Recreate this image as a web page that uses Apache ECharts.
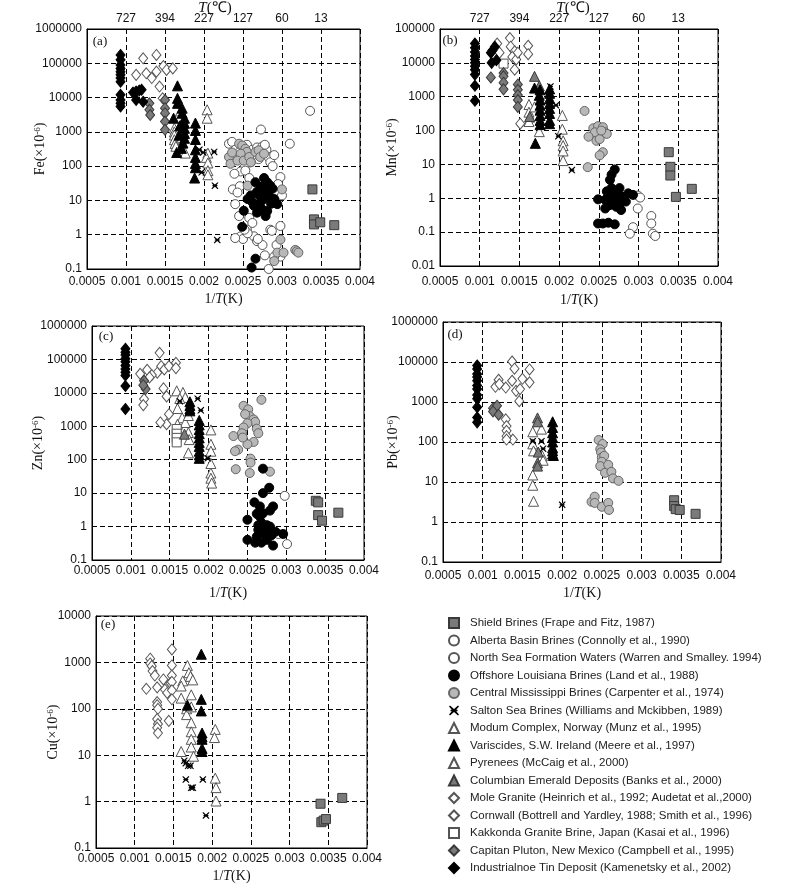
<!DOCTYPE html>
<html><head><meta charset="utf-8">
<script src="https://cdn.jsdelivr.net/npm/echarts@6/dist/echarts.min.js"></script>
<style>html,body{margin:0;padding:0;background:#fff}#c{width:800px;height:884px}</style>
</head><body><div id="c"></div>
<script>
// ---------- tick labels ----------
const X_TICKS = ['0.0005','0.001','0.0015','0.002','0.0025','0.003','0.0035','0.004'];
const T_TICKS = ['727','394','227','127','60','13'];
const FE_TICKS = ['0.1','1','10','100','1000','10000','100000','1000000'];
const MN_TICKS = ['0.01','0.1','1','10','100','1000','10000','100000'];
const ZN_TICKS = ['0.1','1','10','100','1000','10000','100000','1000000'];
const PB_TICKS = ['0.1','1','10','100','1000','100000','1000000'];
const CU_TICKS = ['0.1','1','10','100','1000','10000'];

// ---------- legend names ----------
const NAME = {
  shield:'Shield Brines (Frape and Fitz, 1987)',
  alberta:'Alberta Basin Brines (Connolly et al., 1990)',
  northsea:'North Sea Formation Waters (Warren and Smalley. 1994)',
  louisiana:'Offshore Louisiana Brines (Land et al., 1988)',
  mississippi:'Central Mississippi Brines (Carpenter et al., 1974)',
  salton:'Salton Sea Brines (Williams and Mckibben, 1989)',
  modum:'Modum Complex, Norway (Munz et al., 1995)',
  variscides:'Variscides, S.W. Ireland (Meere et al., 1997)',
  pyrenees:'Pyrenees (McCaig et al., 2000)',
  columbian:'Columbian Emerald Deposits (Banks et al., 2000)',
  mole:'Mole Granite (Heinrich et al., 1992; Audetat et al.,2000)',
  cornwall:'Cornwall (Bottrell and Yardley, 1988; Smith et al., 1996)',
  kakkonda:'Kakkonda Granite Brine, Japan (Kasai et al., 1996)',
  capitan:'Capitan Pluton, New Mexico (Campbell et al., 1995)',
  industrialnoe:'Industrialnoe Tin Deposit (Kamenetsky et al., 2002)'
};
const LEGEND_ORDER = ['shield','alberta','northsea','louisiana','mississippi','salton','modum','variscides','pyrenees','columbian','mole','cornwall','kakkonda','capitan','industrialnoe'];

// ---------- (a) Fe ----------
const FE_SHIELD = [[0.00339,21],[0.00341,2.8],[0.00341,2.0],[0.00349,2.3],[0.00367,1.9]];
const FE_ALBERTA = [[0.00336,4100],[0.0031,450],[0.00273,1170],[0.00232,450],[0.00236,510],[0.0024,300],[0.00245,250],[0.0025,380],[0.00255,420],[0.00262,300],[0.00268,350],[0.00275,380],[0.0028,300],[0.00283,180],[0.00285,130],[0.0029,210],[0.00288,100],[0.0027,160],[0.0026,130],[0.00252,90],[0.00247,70],[0.00278,420],[0.00265,220]];
const FE_NORTHSEA = [[0.00239,60],[0.00237,21],[0.0024,7.8],[0.00253,74],[0.00258,45],[0.00298,48],[0.003,14],[0.00295,30],[0.00246,26],[0.00243,17],[0.00245,3.5],[0.00258,3.1],[0.00262,2.2],[0.00255,1.4],[0.00247,0.9],[0.00264,0.9],[0.00268,0.65],[0.00285,1.4],[0.00298,1.8],[0.00275,0.5],[0.00298,0.23],[0.0029,0.23],[0.00283,0.1],[0.0025,0.75],[0.00256,1.1],[0.00278,0.25],[0.0024,0.8],[0.00287,1.3],[0.00293,0.5],[0.00252,1.4],[0.00269,0.75]];
const FE_LOUISIANA = [[0.00277,45],[0.00266,34],[0.00281,34],[0.00273,25],[0.00283,21],[0.00277,17],[0.0026,14],[0.00271,14],[0.00283,14],[0.0029,11],[0.00294,7.8],[0.00256,11],[0.00264,7],[0.00275,5.4],[0.00281,4.9],[0.00268,4.4],[0.00279,3.5],[0.00251,5],[0.00249,1.7],[0.00266,0.2],[0.00261,0.11],[0.00285,27],[0.00277,11],[0.00268,18],[0.00262,9],[0.00286,8],[0.00272,8.5],[0.00288,22]];
const FE_MISSISSIPPI = [[0.00232,185],[0.00234,117],[0.00236,250],[0.00245,450],[0.00249,400],[0.00253,320],[0.00255,260],[0.00247,230],[0.00243,145],[0.00251,145],[0.00258,185],[0.0026,130],[0.00266,260],[0.0027,290],[0.00272,185],[0.00277,230],[0.00256,27],[0.003,21],[0.00298,0.72],[0.00294,0.3],[0.00302,0.3],[0.0029,0.17],[0.00317,0.36],[0.00319,0.33],[0.00321,0.3]];
const FE_SALTON = [[0.00194,300],[0.00199,250],[0.00197,66],[0.00213,260],[0.00214,27],[0.00217,0.7]];
const FE_MODUM = [[0.00162,1280],[0.00162,1000],[0.00162,810],[0.00162,590],[0.00163,460],[0.00164,380],[0.00176,240],[0.0017,4100]];
const FE_PYRENEES = [[0.00204,4400],[0.00204,2500],[0.00205,240],[0.00203,180],[0.00205,124],[0.00205,74],[0.00205,56]];
const FE_VARISCIDES = [[0.00166,22000],[0.00166,9500],[0.00166,6800],[0.00172,4900],[0.00172,3500],[0.00175,2500],[0.00175,1780],[0.00175,1270],[0.00175,900],[0.00175,650],[0.00173,470],[0.00171,330],[0.00161,2500],[0.00165,250],[0.00189,1800],[0.00189,1100],[0.00189,600],[0.00189,300],[0.00189,180],[0.00189,120],[0.00189,90],[0.00188,45],[0.00169,1500],[0.00168,800]];
const FE_MOLE = [[0.00139,175000],[0.00139,57000],[0.00148,83000],[0.00152,64000],[0.0016,71000],[0.00143,21000],[0.00147,9500]];
const FE_CORNWALL = [[0.00122,140000],[0.00113,46000],[0.00126,51000],[0.00133,37000]];
const FE_CAPITAN = [[0.0013,6800],[0.0013,4400],[0.00131,3100],[0.0015,8500],[0.0015,4900],[0.0015,3500],[0.0015,2000],[0.0015,1150]];
const FE_INDUSTRIALNOE = [[0.00093,175000],[0.00093,126000],[0.00093,89000],[0.00093,71000],[0.00093,57000],[0.00093,46000],[0.00093,37000],[0.00093,29000],[0.00093,12000],[0.00093,8500],[0.00093,6800],[0.00093,5500],[0.00113,15000],[0.0012,17000],[0.00113,8500],[0.00122,7600],[0.00109,14000],[0.00117,16000]];

// ---------- (b) Mn ----------
const MN_SHIELD = [[0.00338,23],[0.0034,8.5],[0.0034,4.7],[0.00347,1.1],[0.00367,1.9]];
const MN_ALBERTA = [[0.00299,1.2],[0.00302,1.05],[0.00299,0.5]];
const MN_NORTHSEA = [[0.00293,0.14],[0.00289,0.09],[0.00316,0.3],[0.00316,0.18],[0.00318,0.09],[0.00321,0.077]];
const MN_LOUISIANA = [[0.0027,7.1],[0.00266,5],[0.00264,3.5],[0.00266,2],[0.0026,1.6],[0.00249,0.93],[0.00258,0.9],[0.00272,1.4],[0.00276,2],[0.00281,1.1],[0.00287,1.4],[0.00293,1.26],[0.00264,0.63],[0.00258,0.5],[0.00272,0.56],[0.00278,0.45],[0.00268,0.8],[0.00276,0.7],[0.00249,0.18],[0.00255,0.18],[0.00262,0.19],[0.0027,0.17],[0.00279,1.1],[0.00274,1.0],[0.00262,1.2],[0.00268,1.5],[0.00284,0.8]];
const MN_MISSISSIPPI = [[0.00232,380],[0.00243,117],[0.00249,135],[0.00255,126],[0.00258,89],[0.00245,89],[0.00237,66],[0.00247,50],[0.00251,56],[0.0026,80],[0.00255,23],[0.00251,18.6],[0.00236,8.3],[0.00253,100]];
const MN_SALTON = [[0.00189,2000],[0.00196,560],[0.00199,68],[0.00216,6.8]];
const MN_MODUM = [[0.00162,590],[0.00162,350],[0.00163,250],[0.00162,185],[0.00175,93],[0.00169,500]];
const MN_PYRENEES = [[0.00204,280],[0.00204,110],[0.00205,50],[0.00205,36],[0.00205,25],[0.00205,13]];
const MN_COLUMBIAN = [[0.00169,4000],[0.00175,2100],[0.00163,260]];
const MN_VARISCIDES = [[0.00169,1800],[0.00176,1600],[0.00175,1100],[0.00176,800],[0.00176,560],[0.00176,400],[0.00176,280],[0.00176,200],[0.00176,150],[0.0017,42],[0.00188,1700],[0.00188,1260],[0.00188,890],[0.00188,630],[0.00188,450],[0.00188,320],[0.00188,200],[0.00188,160]];
const MN_MOLE = [[0.00138,54000],[0.00139,30000],[0.00144,22000],[0.00141,15000],[0.00146,12600],[0.00148,20000],[0.00144,6300],[0.00161,32000],[0.00161,18000],[0.00151,160]];
const MN_CORNWALL = [[0.00122,37000],[0.00125,20000]];
const MN_KAKKONDA = [[0.0013,9500]];
const MN_CAPITAN = [[0.00114,3700],[0.0013,5000],[0.0013,4000],[0.0013,2600],[0.0013,1650],[0.00148,2300],[0.00148,1600],[0.00148,1120],[0.00148,800],[0.00148,500]];
const MN_INDUSTRIALNOE = [[0.00094,37000],[0.00094,28000],[0.00094,21000],[0.00094,16000],[0.00094,12600],[0.00094,10000],[0.00094,7900],[0.00094,6300],[0.00094,4500],[0.00094,2100],[0.00094,760],[0.00114,20000],[0.00116,23000],[0.00119,30000],[0.00115,10000],[0.00121,12000]];

// ---------- (c) Zn ----------
const ZN_SHIELD = [[0.00338,5.9],[0.00341,5.3],[0.00341,2.2],[0.00346,1.5],[0.00367,2.6]];
const ZN_ALBERTA = [[0.00298,8.3],[0.00301,0.3]];
const ZN_NORTHSEA = [[0.0029,0.6]];
const ZN_LOUISIANA = [[0.0027,54],[0.0027,10],[0.00278,14.5],[0.00259,5.3],[0.00266,4],[0.00283,4],[0.00262,2.4],[0.0027,2.5],[0.00279,3],[0.0025,1.6],[0.00268,1.3],[0.00275,1.1],[0.00264,0.8],[0.0027,0.75],[0.00277,0.75],[0.00262,0.5],[0.00275,0.4],[0.00283,0.27],[0.0025,0.4],[0.00296,0.6],[0.0026,0.33],[0.00268,0.33],[0.00272,0.9],[0.00264,1.1],[0.00279,1.0],[0.00266,2],[0.00272,0.6],[0.00281,0.55],[0.00286,0.7]];
const ZN_MISSISSIPPI = [[0.00245,4100],[0.00251,3200],[0.00253,2000],[0.00247,2300],[0.00258,1600],[0.0026,1350],[0.0025,1230],[0.00245,920],[0.00243,620],[0.00262,850],[0.00264,620],[0.00258,340],[0.0025,290],[0.00244,460],[0.00232,510],[0.00238,200],[0.00234,180],[0.00235,52],[0.00254,108],[0.00254,82],[0.00253,40],[0.00268,6200],[0.00279,44]];
const ZN_SALTON = [[0.00163,5600],[0.00186,6700],[0.0019,3000],[0.00199,110]];
const ZN_MODUM = [[0.00159,11500],[0.00167,10300],[0.0017,7300],[0.00163,6800],[0.0016,3400],[0.00166,1800],[0.0017,1300],[0.00174,2100],[0.0016,1150],[0.00174,650],[0.00175,400],[0.00174,160]];
const ZN_PYRENEES = [[0.00203,780],[0.00203,290],[0.00203,180],[0.00203,77],[0.00203,40],[0.00203,28],[0.00204,20]];
const ZN_KAKKONDA = [[0.00159,830],[0.00159,600],[0.00159,450],[0.00159,330]];
const ZN_COLUMBIAN = [[0.00169,580]];
const ZN_VARISCIDES = [[0.00176,5400],[0.00176,4200],[0.00176,3300],[0.00176,2900],[0.00188,1500],[0.00188,1100],[0.00188,800],[0.00188,600],[0.00188,450],[0.00188,330],[0.00188,250],[0.00188,180],[0.00188,140],[0.00188,110]];
const ZN_MOLE = [[0.00137,158000],[0.00134,40000],[0.00139,63000],[0.00143,50000],[0.00149,63000],[0.00158,79000],[0.00158,55000],[0.00142,13600],[0.00146,7800],[0.00149,2300],[0.00146,1150],[0.00138,1300]];
const ZN_CORNWALL = [[0.00112,37000],[0.00121,49000],[0.00127,34000],[0.00117,6500],[0.00116,4300],[0.00124,29000]];
const ZN_CAPITAN = [[0.00117,23000],[0.00119,13000],[0.00116,17000]];
const ZN_INDUSTRIALNOE = [[0.00093,210000],[0.00093,165000],[0.00093,135000],[0.00093,105000],[0.00093,85000],[0.00093,66000],[0.00093,52000],[0.00093,41000],[0.00093,33000],[0.00093,16000],[0.00093,3300]];

// ---------- (d) Pb ----------
const PB_SHIELD = [[0.00341,3.5],[0.00341,2.5],[0.00343,2.1],[0.00348,2.0],[0.00368,1.6]];
const PB_MISSISSIPPI = [[0.00246,112],[0.00251,89],[0.00248,66],[0.00249,55],[0.0025,41],[0.00253,45],[0.0025,32],[0.00248,25],[0.00254,17],[0.00258,27],[0.00262,18],[0.00264,12.3],[0.00271,10.7],[0.00237,3.2],[0.00241,4.3],[0.00241,3],[0.0025,2.4],[0.00258,3],[0.00259,2]];
const PB_SALTON = [[0.00163,105],[0.00174,105],[0.00176,68],[0.0019,45],[0.002,2.7]];
const PB_MODUM = [[0.00163,180],[0.00163,90],[0.00164,60],[0.00174,210],[0.00175,45],[0.00176,35]];
const PB_PYRENEES = [[0.00163,15],[0.00163,8.3],[0.00164,3.3]];
const PB_COLUMBIAN = [[0.00169,400],[0.00169,320],[0.0017,56],[0.00169,30],[0.00169,25]];
const PB_VARISCIDES = [[0.00188,320],[0.00188,230],[0.00188,170],[0.00188,130],[0.00188,100],[0.00188,72],[0.00188,60],[0.00188,50],[0.00189,46]];
const PB_MOLE = [[0.00137,10300],[0.0014,6800],[0.00137,3400],[0.00142,1900],[0.0015,3800],[0.00147,2100],[0.00146,1050],[0.00159,6500],[0.00159,3100],[0.00138,115]];
const PB_CORNWALL = [[0.0012,3600],[0.00116,2400],[0.00121,2800],[0.00129,2300],[0.00129,370],[0.0013,250],[0.0013,190],[0.0013,140],[0.0013,115]];
const PB_CAPITAN = [[0.00113,700],[0.00118,810],[0.00113,580],[0.0012,480]];
const PB_INDUSTRIALNOE = [[0.00093,8200],[0.00093,6700],[0.00093,5000],[0.00093,4200],[0.00093,3400],[0.00093,2600],[0.00093,2100],[0.00093,1500],[0.00093,1200],[0.00093,740],[0.00093,410],[0.00093,310]];

// ---------- (e) Cu ----------
const CU_SHIELD = [[0.0034,0.9],[0.00368,1.2],[0.00341,0.36],[0.00344,0.39],[0.00347,0.42]];
const CU_SALTON = [[0.00164,7.6],[0.00166,6.7],[0.00169,5.9],[0.00172,5.9],[0.00166,3],[0.00175,2],[0.00173,2],[0.00188,3],[0.00192,0.5]];
const CU_MODUM = [[0.00168,860],[0.0017,600],[0.00172,500],[0.00175,420],[0.00162,400],[0.0016,310],[0.0016,170],[0.00167,100],[0.00167,75],[0.00173,200],[0.00173,110],[0.00173,50],[0.00173,32],[0.00173,22],[0.00173,15],[0.0016,12],[0.00176,9.5]];
const CU_PYRENEES = [[0.00204,36],[0.00203,24],[0.00204,3.2],[0.00205,2],[0.00205,1.03]];
const CU_VARISCIDES = [[0.00186,1500],[0.00186,160],[0.00186,90],[0.00168,120],[0.00187,30],[0.00187,25],[0.00187,22],[0.00187,14],[0.00187,12]];
const CU_MOLE = [[0.00137,430],[0.00139,260],[0.00142,220],[0.00144,55],[0.00148,1900],[0.00148,860],[0.00148,520],[0.00146,360],[0.00148,380],[0.00148,250],[0.00148,160]];
const CU_CORNWALL = [[0.00115,270],[0.0012,1200],[0.0012,950],[0.00122,830],[0.00123,650],[0.00126,520],[0.00129,290],[0.00129,140],[0.00129,120],[0.0013,100],[0.00129,60],[0.0013,47],[0.00129,39],[0.0013,30]];

// ---------- styles ----------
const SALTON_PATH = 'path://M1,0L5,3.5L9,0L10,1L6.5,5L10,9L9,10L5,6.5L1,10L0,9L3.5,5L0,1ZM1.5,4.2L8.5,4.2L8.5,5.8L1.5,5.8Z';
const STYLE = {
  shield:{symbol:'rect',size:9,color:'#7a7a7a',border:'#3a3a3a'},
  alberta:{symbol:'circle',size:9,color:'#fff',border:'#555'},
  northsea:{symbol:'circle',size:9,color:'#fff',border:'#555'},
  louisiana:{symbol:'circle',size:9,color:'#000',border:'#000'},
  mississippi:{symbol:'circle',size:9,color:'#b8b8b8',border:'#666'},
  salton:{symbol:SALTON_PATH,size:7,color:'#000',border:null},
  modum:{symbol:'triangle',size:10,color:'#fff',border:'#555'},
  variscides:{symbol:'triangle',size:10,color:'#000',border:'#000'},
  pyrenees:{symbol:'triangle',size:10,color:'#fff',border:'#555'},
  columbian:{symbol:'triangle',size:10,color:'#7a7a7a',border:'#3a3a3a'},
  mole:{symbol:'diamond',size:[9,11],color:'#fff',border:'#555'},
  cornwall:{symbol:'diamond',size:[9,11],color:'#fff',border:'#555'},
  kakkonda:{symbol:'rect',size:9,color:'#fff',border:'#555'},
  capitan:{symbol:'diamond',size:[9,11],color:'#7a7a7a',border:'#3a3a3a'},
  industrialnoe:{symbol:'diamond',size:[9,11],color:'#000',border:'#000'}
};
const DRAW_ORDER = ['alberta','northsea','modum','pyrenees','mole','cornwall','kakkonda','mississippi','columbian','capitan','shield','louisiana','variscides','industrialnoe','salton'];

const SANS = 'Liberation Sans, Arial, sans-serif';
const SERIF = 'Liberation Serif, Times New Roman, serif';

const PANELS = [
  {grid:{left:87,top:29,width:273,height:240}, yMin:0.1, yMax:1e6, ticks:FE_TICKS, minExp:-1, el:'Fe', yGap:40, xMargin:7, xGap:23, top:true,
   data:{shield:FE_SHIELD,alberta:FE_ALBERTA,northsea:FE_NORTHSEA,louisiana:FE_LOUISIANA,mississippi:FE_MISSISSIPPI,salton:FE_SALTON,modum:FE_MODUM,pyrenees:FE_PYRENEES,variscides:FE_VARISCIDES,mole:FE_MOLE,cornwall:FE_CORNWALL,capitan:FE_CAPITAN,industrialnoe:FE_INDUSTRIALNOE}},
  {grid:{left:440,top:29,width:278,height:237}, yMin:0.01, yMax:1e5, ticks:MN_TICKS, minExp:-2, el:'Mn', yGap:41, xMargin:10, xGap:27, top:true,
   data:{shield:MN_SHIELD,alberta:MN_ALBERTA,northsea:MN_NORTHSEA,louisiana:MN_LOUISIANA,mississippi:MN_MISSISSIPPI,salton:MN_SALTON,modum:MN_MODUM,pyrenees:MN_PYRENEES,columbian:MN_COLUMBIAN,variscides:MN_VARISCIDES,mole:MN_MOLE,cornwall:MN_CORNWALL,kakkonda:MN_KAKKONDA,capitan:MN_CAPITAN,industrialnoe:MN_INDUSTRIALNOE}},
  {grid:{left:92,top:326,width:272,height:234}, yMin:0.1, yMax:1e6, ticks:ZN_TICKS, minExp:-1, el:'Zn', yGap:47, xMargin:5, xGap:26, top:false,
   data:{shield:ZN_SHIELD,alberta:ZN_ALBERTA,northsea:ZN_NORTHSEA,louisiana:ZN_LOUISIANA,mississippi:ZN_MISSISSIPPI,salton:ZN_SALTON,modum:ZN_MODUM,pyrenees:ZN_PYRENEES,kakkonda:ZN_KAKKONDA,columbian:ZN_COLUMBIAN,variscides:ZN_VARISCIDES,mole:ZN_MOLE,cornwall:ZN_CORNWALL,capitan:ZN_CAPITAN,industrialnoe:ZN_INDUSTRIALNOE}},
  {grid:{left:443,top:322,width:278,height:240}, yMin:0.1, yMax:1e5, ticks:PB_TICKS, minExp:-1, el:'Pb', yGap:43, xMargin:8, xGap:24, top:false,
   data:{shield:PB_SHIELD,mississippi:PB_MISSISSIPPI,salton:PB_SALTON,modum:PB_MODUM,pyrenees:PB_PYRENEES,columbian:PB_COLUMBIAN,variscides:PB_VARISCIDES,mole:PB_MOLE,cornwall:PB_CORNWALL,capitan:PB_CAPITAN,industrialnoe:PB_INDUSTRIALNOE}},
  {grid:{left:96,top:616,width:271,height:232}, yMin:0.1, yMax:1e4, ticks:CU_TICKS, minExp:-1, el:'Cu', yGap:36, xMargin:5, xGap:21, top:false,
   data:{shield:CU_SHIELD,salton:CU_SALTON,modum:CU_MODUM,pyrenees:CU_PYRENEES,variscides:CU_VARISCIDES,mole:CU_MOLE,cornwall:CU_CORNWALL}}
];
const LETTERS = [['(a)',100,42],['(b)',450,41],['(c)',106,337],['(d)',455,335],['(e)',108,625]];

const xFmt = v => { const i = Math.round((v - 0.0005) / 0.0005); return X_TICKS[i] || ''; };
const dash = {color:'#000', width:1, type:[5,3]};

const grids = [], xAxes = [], yAxes = [], series = [];
PANELS.forEach((p, i) => {
  grids.push(Object.assign({show:true, borderColor:'#000', borderWidth:1, containLabel:false}, p.grid));
  xAxes.push({gridIndex:i, type:'value', min:0.0005, max:0.004, interval:0.0005,
    name:'1/{i|T}(K)', nameLocation:'middle', nameGap:p.xGap, nameMoveOverlap:false,
    nameTextStyle:{fontFamily:SERIF, fontSize:14, color:'#111', rich:{i:{fontFamily:SERIF, fontSize:14, fontStyle:'italic', color:'#111'}}},
    axisLine:{show:true, lineStyle:{color:'#000'}}, axisTick:{show:false},
    axisLabel:{margin:p.xMargin, formatter:xFmt, fontFamily:SANS, fontSize:12, color:'#111', showMinLabel:true, showMaxLabel:true},
    splitLine:{show:true, lineStyle:dash}});
  const ticks = p.ticks, minExp = p.minExp;
  yAxes.push({gridIndex:i, type:'log', logBase:10, min:p.yMin, max:p.yMax, interval:1,
    name:p.el + '(×10{s|-6})', nameLocation:'middle', nameGap:p.yGap, nameMoveOverlap:false,
    nameTextStyle:{fontFamily:SERIF, fontSize:14, color:'#111', rich:{s:{fontFamily:SERIF, fontSize:9, verticalAlign:'top', color:'#111'}}},
    axisLine:{show:true, lineStyle:{color:'#000'}}, axisTick:{show:false},
    axisLabel:{margin:5, fontFamily:SANS, fontSize:12, color:'#111', showMinLabel:true, showMaxLabel:true,
      formatter: v => ticks[Math.round(Math.log10(v)) - minExp] || ''},
    splitLine:{show:true, lineStyle:dash}, minorTick:{show:false}});
  DRAW_ORDER.forEach(k => {
    const d = p.data[k]; if (!d) return;
    const s = STYLE[k];
    series.push({type:'scatter', name:NAME[k], xAxisIndex:i, yAxisIndex:i, data:d,
      symbol:s.symbol, symbolSize:s.size,
      itemStyle:{color:s.color, borderColor:s.border || s.color, borderWidth:s.border ? 1 : 0, opacity:1},
      emphasis:{disabled:true}, silent:true});
  });
});
// top temperature axes for (a) and (b)
[0,1].forEach(i => {
  xAxes.push({gridIndex:i, type:'value', position:'top', min:0.0005, max:0.004, interval:0.0005,
    axisLine:{show:true, lineStyle:{color:'#000'}}, axisTick:{show:false}, splitLine:{show:false},
    axisLabel:{margin:4, fontFamily:SANS, fontSize:12, color:'#111',
      formatter: v => { const j = Math.round((v - 0.0005) / 0.0005); return (j >= 1 && j <= 6) ? T_TICKS[j-1] : ''; }}});
});

const graphics = LETTERS.map(([t,x,y]) => ({type:'text', x:x, y:y, silent:true,
  style:{text:t, fontFamily:SERIF, fontSize:13, fill:'#111', align:'center', verticalAlign:'middle'}}));
[[215,8],[573,8]].forEach(([x,y]) => graphics.push({type:'text', x:x, y:y, silent:true,
  style:{text:'{i|T}(℃)', fontFamily:SERIF, fontSize:15, fill:'#111', align:'center', verticalAlign:'middle',
    rich:{i:{fontFamily:SERIF, fontSize:15, fontStyle:'italic', fill:'#111'}}}}));

const chart = echarts.init(document.getElementById('c'), null, {renderer:'canvas'});
chart.setOption({
  animation:false,
  backgroundColor:'#fff',
  grid:grids, xAxis:xAxes, yAxis:yAxes, series:series,
  legend:{orient:'vertical', left:448, top:616, padding:0, itemWidth:10, itemHeight:10, itemGap:3.5, selectedMode:false,
    data:LEGEND_ORDER.map(k => NAME[k]),
    textStyle:{fontFamily:SANS, fontSize:11.5, color:'#222', lineHeight:14, padding:[0,0,0,6]}},
  graphic:graphics
});
</script></body></html>
